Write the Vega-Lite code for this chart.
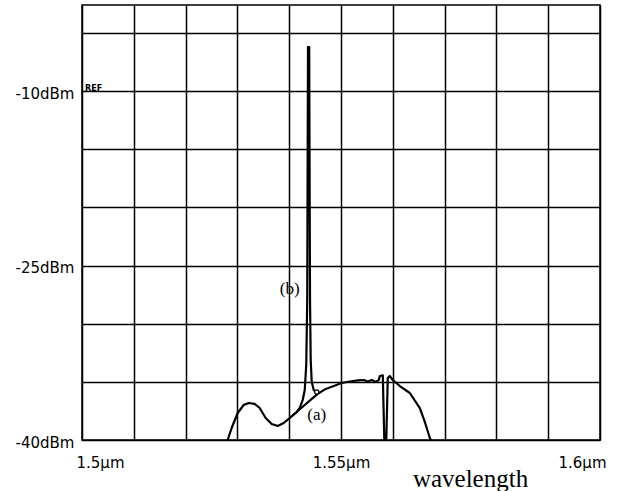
{
  "$schema": "https://vega.github.io/schema/vega-lite/v6.json",
  "autosize": {"type": "none"},
  "padding": {"left": 82, "top": 5, "right": 22, "bottom": 51},
  "width": 518,
  "height": 435,
  "background": "white",
  "config": {
    "view": {"stroke": "black", "strokeWidth": 1.5}
  },
  "datasets": {
    "curves": [
      {"series": "a", "wl": 1.52812, "dBm": -40},
      {"series": "a", "wl": 1.52889, "dBm": -38.97},
      {"series": "a", "wl": 1.53005, "dBm": -37.68},
      {"series": "a", "wl": 1.53121, "dBm": -36.99},
      {"series": "a", "wl": 1.53217, "dBm": -36.82},
      {"series": "a", "wl": 1.53333, "dBm": -36.90},
      {"series": "a", "wl": 1.53430, "dBm": -37.25},
      {"series": "a", "wl": 1.53546, "dBm": -38.11},
      {"series": "a", "wl": 1.53662, "dBm": -38.62},
      {"series": "a", "wl": 1.53778, "dBm": -38.80},
      {"series": "a", "wl": 1.53894, "dBm": -38.54},
      {"series": "a", "wl": 1.54010, "dBm": -38.11},
      {"series": "a", "wl": 1.54145, "dBm": -37.59},
      {"series": "a", "wl": 1.54300, "dBm": -36.99},
      {"series": "a", "wl": 1.54435, "dBm": -36.47},
      {"series": "a", "wl": 1.54551, "dBm": -36.04},
      {"series": "a", "wl": 1.54705, "dBm": -35.61},
      {"series": "a", "wl": 1.54860, "dBm": -35.36},
      {"series": "a", "wl": 1.55014, "dBm": -35.10},
      {"series": "a", "wl": 1.55169, "dBm": -34.97},
      {"series": "a", "wl": 1.55324, "dBm": -34.88},
      {"series": "a", "wl": 1.55440, "dBm": -34.84},
      {"series": "a", "wl": 1.55517, "dBm": -34.97},
      {"series": "a", "wl": 1.55594, "dBm": -34.84},
      {"series": "a", "wl": 1.55672, "dBm": -35.01},
      {"series": "a", "wl": 1.55729, "dBm": -34.84},
      {"series": "a", "wl": 1.55749, "dBm": -34.50},
      {"series": "a", "wl": 1.55807, "dBm": -34.45},
      {"series": "a", "wl": 1.55836, "dBm": -40},
      {"series": "a", "wl": 1.55874, "dBm": -40},
      {"series": "a", "wl": 1.55903, "dBm": -34.67},
      {"series": "a", "wl": 1.55942, "dBm": -34.50},
      {"series": "a", "wl": 1.56000, "dBm": -34.84},
      {"series": "a", "wl": 1.56135, "dBm": -35.36},
      {"series": "a", "wl": 1.56329, "dBm": -35.96},
      {"series": "a", "wl": 1.56522, "dBm": -37.25},
      {"series": "a", "wl": 1.56618, "dBm": -38.45},
      {"series": "a", "wl": 1.56715, "dBm": -39.83},
      {"series": "a", "wl": 1.56734, "dBm": -40},
      {"series": "b", "wl": 1.54010, "dBm": -38.11},
      {"series": "b", "wl": 1.54145, "dBm": -37.59},
      {"series": "b", "wl": 1.54203, "dBm": -37.25},
      {"series": "b", "wl": 1.54261, "dBm": -36.56},
      {"series": "b", "wl": 1.54300, "dBm": -35.70},
      {"series": "b", "wl": 1.54329, "dBm": -33.55},
      {"series": "b", "wl": 1.54348, "dBm": -27.96},
      {"series": "b", "wl": 1.54363, "dBm": -6.21},
      {"series": "b", "wl": 1.54386, "dBm": -6.21},
      {"series": "b", "wl": 1.54402, "dBm": -27.96},
      {"series": "b", "wl": 1.54415, "dBm": -33.12},
      {"series": "b", "wl": 1.54435, "dBm": -35.01},
      {"series": "b", "wl": 1.54473, "dBm": -35.70},
      {"series": "b", "wl": 1.54532, "dBm": -35.96}
    ],
    "marker": [
      {"wl": 1.54532, "dBm": -35.87}
    ],
    "labels": [
      {"wl": 1.5401, "dBm": -27.0, "text": "(b)"},
      {"wl": 1.5453, "dBm": -37.85, "text": "(a)"}
    ],
    "ref": [
      {"wl": 1.5, "dBm": -10, "text": "REF"}
    ]
  },
  "encoding": {
    "x": {
      "field": "wl",
      "type": "quantitative",
      "scale": {"domain": [1.5, 1.6], "nice": false, "zero": false},
      "axis": {
        "values": [1.5, 1.51, 1.52, 1.53, 1.54, 1.55, 1.56, 1.57, 1.58, 1.59, 1.6],
        "grid": true,
        "gridColor": "black",
        "gridWidth": 1.5,
        "gridOpacity": 1,
        "ticks": false,
        "domain": false,
        "labelExpr": "datum.value == 1.5 || datum.value == 1.55 || datum.value == 1.6 ? datum.value + 'µm' : ''",
        "labelFlush": true,
        "labelFlushOffset": 6,
        "labelPadding": 15,
        "labelFont": "DejaVu Sans",
        "labelFontSize": 15,
        "labelColor": "black",
        "labelBaseline": "top",
        "labelOverlap": false,
        "title": "wavelength",
        "titleFont": "Liberation Serif",
        "titleFontSize": 25,
        "titleFontWeight": "normal",
        "titleColor": "black",
        "titleX": 388,
        "titleY": 46,
        "titleAlign": "center",
        "titleBaseline": "alphabetic"
      }
    },
    "y": {
      "field": "dBm",
      "type": "quantitative",
      "scale": {"domain": [-40, -2.6], "nice": false, "zero": false},
      "axis": {
        "values": [-40, -35, -30, -25, -20, -15, -10, -5],
        "grid": true,
        "gridColor": "black",
        "gridWidth": 1.5,
        "gridOpacity": 1,
        "ticks": false,
        "domain": false,
        "labelExpr": "(datum.value + 10) % 15 == 0 ? datum.value + 'dBm' : ''",
        "labelPadding": 8,
        "labelOffset": 2,
        "labelFont": "DejaVu Sans",
        "labelFontSize": 15,
        "labelColor": "black",
        "labelOverlap": false,
        "title": null
      }
    }
  },
  "layer": [
    {
      "data": {"name": "curves"},
      "mark": {"type": "line", "color": "black", "strokeWidth": 2.2, "strokeJoin": "round"},
      "encoding": {"detail": {"field": "series", "type": "nominal"}}
    },
    {
      "data": {"name": "marker"},
      "mark": {"type": "point", "shape": "circle", "filled": true, "fill": "white", "stroke": "black", "strokeWidth": 1.2, "size": 18, "opacity": 1}
    },
    {
      "data": {"name": "labels"},
      "mark": {"type": "text", "font": "Liberation Serif", "fontSize": 17, "color": "black", "align": "center", "baseline": "middle"},
      "encoding": {"text": {"field": "text", "type": "nominal"}}
    },
    {
      "data": {"name": "ref"},
      "mark": {"type": "text", "font": "DejaVu Sans", "fontSize": 8, "fontWeight": "bold", "color": "black", "align": "left", "baseline": "bottom", "dx": 3, "dy": 2},
      "encoding": {"text": {"field": "text", "type": "nominal"}}
    }
  ]
}
